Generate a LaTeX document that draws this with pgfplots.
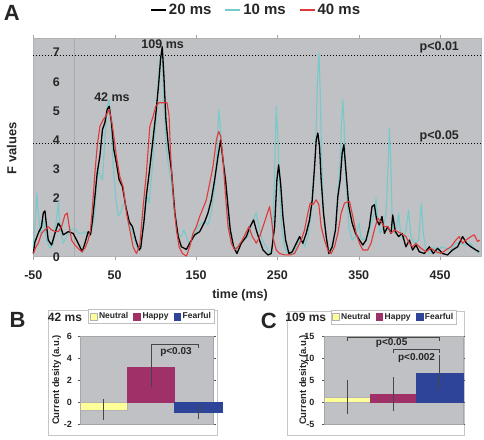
\documentclass[border=0pt]{standalone}
\usepackage{fontspec}
\setmainfont{Liberation Sans}
\usepackage{pgfplots}
\pgfplotsset{compat=1.18}
\definecolor{plotgray}{RGB}{192,193,197}
\definecolor{cy}{RGB}{120,202,202}
\definecolor{rd}{RGB}{222,58,58}
\definecolor{neutralc}{RGB}{255,255,153}
\definecolor{happyc}{RGB}{160,48,104}
\definecolor{fearc}{RGB}{46,68,152}
\begin{document}
\begin{tikzpicture}
\useasboundingbox (0,0) rectangle (484pt,439pt);
% ---------------- Panel A ----------------
\begin{axis}[
  at={(33.3pt,182.3pt)}, anchor=south west,
  width=447.5pt, height=218.7pt, scale only axis,
  xmin=-50, xmax=500, ymin=0, ymax=7.5,
  axis background/.style={fill=plotgray},
  axis line style={gray!60},
  xtick={-50,50,...,450}, ytick={0,2,3,4,5,6,7},
  tick align=outside, major tick length=3pt,
  xtick style={gray!70}, ytick style={draw=none},
  /pgf/number format/assume math mode=true,
  ticklabel style={font=\fontsize{12.5}{14}\selectfont\bfseries, text=black!85},
  yticklabel style={xshift=33pt},
  xticklabel style={yshift=-8pt},
  xlabel={time (ms)}, ylabel={F values},
  xlabel style={at={(axis description cs:0.462,-0.175)}, anchor=center, font=\fontsize{12.5}{14}\selectfont\bfseries, text=black!85},
  ylabel style={at={(axis description cs:-0.048,0.497)}, anchor=center, font=\fontsize{13}{15}\selectfont\bfseries, text=black!85},
  clip=false,
  legend columns=3,
  legend style={at={(0.498,1.128)}, anchor=center, draw=none, fill=none,
    font=\fontsize{15}{17}\selectfont\bfseries, text=black!85,
    /tikz/every even column/.append style={column sep=11pt}},
  legend image code/.code={\draw[#1, line width=1.8pt] (0pt,0pt) -- (15pt,0pt);},
  line join=round,
]
\addlegendimage{black}
\addlegendentry{20 ms}
\addlegendimage{cy}
\addlegendentry{10 ms}
\addlegendimage{rd}
\addlegendentry{40 ms}
\draw[gray!65] (axis cs:0,0) -- (axis cs:0,7.5);
\addplot[forget plot, black, line width=0.8pt, dash pattern=on 1pt off 2pt] coordinates {(-50,6.9) (500,6.9)};
\addplot[forget plot, black, line width=0.8pt, dash pattern=on 1pt off 2pt] coordinates {(-50,3.87) (500,3.87)};
% 10 ms
\addplot[forget plot, cy, line width=1.1pt] coordinates {
(-50,0.34) (-48,1.03) (-45.9,2.18) (-43.9,1.5) (-41,0.8) (-37.7,1.26) (-33.6,0.57) (-29.6,0.29) (-25.5,0.46) (-21.4,1.3) (-19,1.9) (-17.3,1.03) (-13.2,0.46) (-9.1,0.69) (-5,0.92) (1.1,0.97) (5.2,0.8) (9.3,0.8) (13.4,0.86) (17.5,0.69) (21.6,0.86) (25.7,1.5) (27.7,2.52) (29.8,2.98) (32.6,2.75) (35,2.64) (37.9,4.0) (40.8,5.16) (43.3,5.39) (45.7,4.47) (48.2,3.1) (51.4,2.0) (54.3,1.4) (57.2,1.5) (60.4,1.8) (63.7,1.75) (66.6,1.3) (70.7,0.92) (74.7,0.57) (78.8,0.23) (80.9,0.23) (85,1.03) (89,2.18) (92.4,1.84) (96.4,3.1) (100.5,4.59) (103.4,6.08) (106.3,6.88) (108.7,6.77) (110.3,5.39) (112.8,4.0) (115.7,3.2) (119.8,2.52) (123.8,1.38) (127.9,0.8) (132,0.69) (134.9,0.92) (138.2,0.69) (141.4,0.46) (144.3,0.57) (148.4,0.8) (152.5,1.03) (156.6,1.15) (160.7,1.2) (164.7,1.09) (168.8,1.5) (172.9,2.4) (175.8,3.55) (177.8,5.05) (179.9,4.47) (182.3,3.44) (185.2,2.64) (188.1,2.06) (190.5,0.92) (194.6,0.46) (199.5,0.23) (203.6,0.46) (208.5,0.57) (213.8,0.69) (219.1,1.2) (224,1.5) (227.4,1.03) (231.4,0.57) (236.4,0.34) (240.4,0.11) (243.7,0.34) (246.6,2.87) (248.6,5.16) (250.7,4.0) (252.7,2.3) (255.2,1.03) (258.8,0.34) (262.9,0.11) (269.1,0.11) (275.2,0.46) (279.3,0.63) (283.4,0.34) (287.5,0.69) (291.6,1.5) (294.4,2.3) (296.9,3.67) (298.9,5.73) (301,7.0) (302.6,5.73) (304.3,3.44) (306.7,1.5) (310,0.57) (314.1,0.11) (318.2,0.34) (321.4,1.03) (324.3,2.18) (327.2,3.33) (328.8,4.59) (330.4,5.39) (332.1,4.47) (334.5,2.52) (337.8,1.03) (341.9,0.57) (346,0.69) (350.4,1.15) (353,0.6) (357,0.6) (361,0.69) (365,1.15) (369.2,1.5) (371.2,2.0) (373.3,1.26) (376.2,0.8) (380.3,1.03) (383.5,1.5) (386,3.1) (387.6,4.4) (389.2,3.44) (390.9,1.5) (393.7,0.8) (396.6,1.03) (399,1.5) (401.5,0.8) (404.8,0.57) (408,0.92) (411.3,1.6) (414.2,0.69) (418.3,0.46) (423.6,0.57) (426.9,1.84) (429.3,0.8) (432.6,0.23) (438.7,0.11) (442.8,0.34) (446.9,0.11) (451,0.34) (457.1,0.29) (463.3,0.23) (469.4,0.46) (475.5,0.46) (481.7,0.4) (487.8,0.46) (493.1,0.23) (498,0.11)
};
% 20 ms
\addplot[forget plot, black, line width=1.3pt] coordinates {
(-50,0.11) (-48,0.5) (-44,0.8) (-40,1.03) (-37.7,1.5) (-35.7,1.57) (-33.6,1.03) (-31.6,0.57) (-27.5,0.4) (-23.4,0.8) (-19.3,1.15) (-16.5,1.03) (-13.2,0.75) (-7,0.86) (-1,0.8) (3.2,0.57) (7.3,0.34) (10.1,0.17) (13.4,0.46) (17.5,0.86) (20.3,0.75) (22.8,1.26) (25.7,2.06) (28.5,2.87) (31.8,3.44) (35,4.36) (37.9,4.59) (40.8,5.05) (43.3,5.16) (46.1,4.59) (49,3.67) (52.2,3.2) (55.5,2.64) (59.6,2.4) (63.7,1.72) (67.8,1.2) (71.9,1.03) (76,0.57) (80.1,0.23) (82,0.3) (86,1.2) (89,2.1) (93,3.0) (97,4.0) (101,5.0) (104,5.9) (106.5,6.8) (108.5,7.2) (110.5,6.2) (113,4.7) (116,3.8) (120,2.9) (124,1.5) (128,0.7) (132,0.34) (138.2,0.25) (142.2,0.46) (148.4,0.75) (154.5,0.86) (160.7,1.2) (164.7,1.5) (168.8,1.95) (172.9,2.64) (177,3.44) (180.3,4.0) (183.2,3.3) (186.4,2.6) (189.3,1.72) (192.1,0.92) (196.2,0.34) (200.3,0.11) (205.6,0.46) (211.8,0.69) (215.9,1.0) (220.8,1.26) (224,0.92) (228,0.57) (232.3,0.23) (238.4,0.06) (242.5,0.11) (246.6,1.03) (249.4,2.64) (251.5,3.15) (254,2.5) (256.8,1.38) (260.1,0.57) (264.2,0.11) (268.3,0.17) (273.2,0.46) (277.3,0.69) (281.3,0.46) (285.4,0.8) (289.5,1.26) (292.8,1.95) (295.7,3.1) (297.7,4.0) (299.7,4.24) (301.8,3.78) (303.8,2.64) (306.7,1.5) (310,0.69) (313.2,0.11) (317.3,0.34) (321.4,0.92) (324.3,2.06) (327.2,2.64) (329.6,3.55) (331.7,3.84) (334.5,2.87) (337.8,1.72) (341.9,1.15) (346,0.8) (350.9,0.57) (355,0.4) (359,0.57) (363,1.03) (366.3,1.72) (369.2,1.78) (372,1.26) (375.3,1.09) (378.6,1.38) (381.5,0.8) (385.6,1.03) (389.7,0.8) (391.7,1.43) (395,0.86) (399,0.69) (403.2,0.8) (408,0.34) (412.2,0.57) (416.2,0.23) (420.3,0.4) (424.4,0.17) (430.6,0.11) (436.7,0.34) (441.6,0.11) (446.9,0.29) (453,0.11) (459.2,0.06) (465.3,0.23) (471.5,0.34) (477.6,0.69) (482.5,0.46) (487.8,0.34) (494,0.23) (498,0.17)
};
% 40 ms
\addplot[forget plot, rd, line width=1.1pt] coordinates {
(-50,0.11) (-46.7,0.34) (-43.9,0.46) (-39.8,0.8) (-35.7,0.92) (-31.6,1.03) (-27.5,0.92) (-23.4,0.86) (-19.3,0.86) (-15.2,1.03) (-11.1,1.43) (-8.3,1.5) (-5.8,1.03) (-3,0.57) (1.1,0.4) (5.2,0.29) (9.3,0.17) (13.4,0.29) (17.5,0.57) (20.3,0.92) (22.8,1.72) (25.7,2.87) (28.5,3.78) (31.8,4.47) (35.9,4.7) (39.1,4.82) (43.3,5.05) (46.1,4.7) (49,4.13) (52.2,3.44) (56.3,2.75) (60.4,2.4) (64.5,1.5) (68.6,0.92) (72.7,0.34) (76.8,0.11) (80.9,0.4) (85,1.72) (89,2.87) (93.2,4.47) (97.3,4.82) (100.5,5.16) (104.6,5.28) (109.5,5.28) (114.4,5.28) (116.9,4.82) (118.5,3.67) (120.6,2.64) (123,1.72) (125.9,0.92) (129.2,0.34) (133.3,0.11) (138.2,0.02) (142.2,0.34) (146.3,0.8) (150.4,1.03) (154.5,1.38) (158.6,1.66) (162.7,1.95) (166.8,2.52) (170.9,3.1) (175,4.0) (177.8,4.3) (180.3,4.13) (183.2,3.33) (186,2.18) (189.3,1.03) (193.4,0.46) (197.5,0.23) (201.6,0.34) (206.9,0.57) (211,0.8) (215,1.03) (219.1,0.69) (222,0.57) (224,0.46) (228.2,0.69) (232.3,1.03) (236.4,1.38) (240.4,1.72) (242.9,1.26) (245.4,0.57) (248.6,0.23) (252.7,0.11) (258.8,0.06) (265,0.06) (271.1,0.11) (275.2,0.34) (279.3,0.57) (283.4,0.92) (287.5,1.5) (290.3,1.84) (293.6,1.78) (297.7,1.95) (301,1.78) (303.8,1.03) (307.9,0.57) (312,0.23) (316.1,0.11) (320.2,0.34) (324.3,0.8) (328.4,1.5) (332.5,1.84) (338.6,1.9) (342.7,1.38) (346.8,0.8) (350.9,0.46) (355,0.23) (361,0.23) (365.1,0.46) (369.2,0.92) (373.3,1.32) (377.4,1.2) (381.5,1.03) (385.6,1.03) (389.7,0.8) (393.7,0.92) (397.8,0.86) (401.9,0.8) (408,0.69) (412.2,0.46) (416.2,0.34) (420.3,0.46) (426.5,0.29) (432.6,0.17) (438.7,0.29) (444.9,0.17) (451,0.11) (457.1,0.23) (463.3,0.34) (469.4,0.57) (473.5,0.69) (477.6,0.46) (481.7,0.57) (487.8,0.69) (491.9,0.75) (496,0.52) (498.9,0.57)
};
\node[font=\fontsize{12.5}{14}\selectfont\bfseries, text=black!85] at (axis cs:109,7.28) {109 ms};
\node[font=\fontsize{12.5}{14}\selectfont\bfseries, text=black!85] at (axis cs:46.7,5.46) {42 ms};
\node[font=\fontsize{12.5}{14}\selectfont\bfseries, text=black!85] at (axis cs:449,7.18) {p<0.01};
\node[font=\fontsize{12.5}{14}\selectfont\bfseries, text=black!85] at (axis cs:449,4.11) {p<0.05};
\end{axis}
\node[font=\fontsize{22}{24}\selectfont\bfseries, text=black!85] at (11.7pt,426.5pt) {A};
% ---------------- Panel B ----------------
\draw[gray!45, fill=white] (48.3pt,4pt) rectangle (216.7pt,129pt);
\begin{axis}[
  at={(80pt,15pt)}, anchor=south west,
  width=133.3pt, height=88pt, scale only axis,
  xmin=0, xmax=2.82, ymin=-2, ymax=6,
  ytick={-2,0,...,6}, xtick=\empty,
  axis background/.style={fill=plotgray},
  axis line style={gray!70},
  tick align=outside, major tick length=2.5pt, ytick style={gray!70!black},
  /pgf/number format/assume math mode=true,
  ticklabel style={font=\fontsize{9}{10}\selectfont\bfseries, text=black!85},
  yticklabel style={xshift=-2pt},
  ylabel={Current desity (a.u.)},
  ylabel style={at={(axis description cs:-0.175,0.5)}, anchor=center, font=\fontsize{9.5}{11}\selectfont\bfseries, text=black!85},
  clip=false,
  legend columns=3,
  legend style={at={(0.536,1.22)}, anchor=center, draw=gray!50, fill=white,
    font=\fontsize{8.5}{10}\selectfont\bfseries, text=black!85, inner sep=1.2pt,
    /tikz/every even column/.append style={column sep=3pt}},
  legend image code/.code={\draw[#1] (0pt,-3.2pt) rectangle (6.8pt,3.6pt);},
]
\addlegendimage{fill=neutralc, draw=gray!60}
\addlegendentry{Neutral}
\addlegendimage{fill=happyc, draw=happyc}
\addlegendentry{Happy}
\addlegendimage{fill=fearc, draw=fearc}
\addlegendentry{Fearful}
\addplot[forget plot, ybar, bar width=1, bar shift=0pt, fill=neutralc, draw=gray!60] coordinates {(0.5,-0.7)};
\addplot[forget plot, ybar, bar width=1, bar shift=0pt, fill=happyc, draw=happyc] coordinates {(1.5,3.15)};
\addplot[forget plot, ybar, bar width=1, bar shift=0pt, fill=fearc, draw=fearc] coordinates {(2.5,-0.9)};
\addplot[forget plot, draw=none, mark=none,
  error bars/.cd, y dir=both, y explicit,
  error bar style={draw=gray!55!black, line width=0.4pt, solid},
  error mark options={draw=gray!55!black, mark size=1.2pt}]
  coordinates {(0.5,-0.7) +- (0,0.87) (1.5,3.15) +- (0,1.65) (2.5,-0.9) +- (0,0.52)};
\draw[gray!55!black, line width=0.5pt] (axis cs:1.5,4.85) -- (axis cs:1.5,5.26) -- (axis cs:2.5,5.26) -- (axis cs:2.5,4.9);
\node[font=\fontsize{10}{12}\selectfont\bfseries, text=black!85] at (axis cs:2.03,4.5) {p<0.03};
\end{axis}
\node[font=\fontsize{12}{14}\selectfont\bfseries, text=black!85] at (65pt,122pt) {42 ms};
\node[font=\fontsize{22}{24}\selectfont\bfseries, text=black!85] at (17.5pt,119pt) {B};
% ---------------- Panel C ----------------
\draw[gray!45, fill=white] (286.7pt,4pt) rectangle (464pt,128pt);
\begin{axis}[
  at={(324.3pt,15pt)}, anchor=south west,
  width=138.4pt, height=88pt, scale only axis,
  xmin=0, xmax=3, ymin=-5, ymax=15,
  ytick={-5,0,...,15}, xtick=\empty,
  axis background/.style={fill=plotgray},
  axis line style={gray!70},
  tick align=outside, major tick length=2.5pt, ytick style={gray!70!black},
  /pgf/number format/assume math mode=true,
  ticklabel style={font=\fontsize{9}{10}\selectfont\bfseries, text=black!85},
  yticklabel style={xshift=-4pt},
  ylabel={Current desity (a.u.)},
  ylabel style={at={(axis description cs:-0.15,0.5)}, anchor=center, font=\fontsize{9.5}{11}\selectfont\bfseries, text=black!85},
  clip=false,
  legend columns=3,
  legend style={at={(0.501,1.216)}, anchor=center, draw=gray!50, fill=white,
    font=\fontsize{8.5}{10}\selectfont\bfseries, text=black!85, inner sep=1.2pt,
    /tikz/every even column/.append style={column sep=3pt}},
  legend image code/.code={\draw[#1] (0pt,-3.2pt) rectangle (6.8pt,3.6pt);},
]
\addlegendimage{fill=neutralc, draw=gray!60}
\addlegendentry{Neutral}
\addlegendimage{fill=happyc, draw=happyc}
\addlegendentry{Happy}
\addlegendimage{fill=fearc, draw=fearc}
\addlegendentry{Fearful}
\addplot[forget plot, ybar, bar width=1, bar shift=0pt, fill=neutralc, draw=gray!60] coordinates {(0.5,1.15)};
\addplot[forget plot, ybar, bar width=1, bar shift=0pt, fill=happyc, draw=happyc] coordinates {(1.5,1.75)};
\addplot[forget plot, ybar, bar width=1, bar shift=0pt, fill=fearc, draw=fearc] coordinates {(2.5,6.65)};
\addplot[forget plot, draw=none, mark=none,
  error bars/.cd, y dir=both, y explicit,
  error bar style={draw=gray!55!black, line width=0.4pt, solid},
  error mark options={draw=gray!55!black, mark size=1.2pt}]
  coordinates {(0.5,1.15) +- (0,3.5) (1.5,1.75) +- (0,3.6) (2.5,6.65) +- (0,3.65)};
\draw[gray!55!black, line width=0.5pt] (axis cs:0.5,13.9) -- (axis cs:0.5,14.7) -- (axis cs:2.5,14.7) -- (axis cs:2.5,13.9);
\draw[gray!55!black, line width=0.5pt] (axis cs:1.5,11.1) -- (axis cs:1.5,11.9) -- (axis cs:2.5,11.9) -- (axis cs:2.5,11.1);
\node[font=\fontsize{10}{12}\selectfont\bfseries, text=black!85] at (axis cs:1.46,13.4) {p<0.05};
\node[font=\fontsize{10}{12}\selectfont\bfseries, text=black!85] at (axis cs:2.0,9.95) {p<0.002};
\end{axis}
\node[font=\fontsize{12}{14}\selectfont\bfseries, text=black!85] at (305.8pt,122pt) {109 ms};
\node[font=\fontsize{22}{24}\selectfont\bfseries, text=black!85] at (268.7pt,118.5pt) {C};
\end{tikzpicture}
\end{document}
